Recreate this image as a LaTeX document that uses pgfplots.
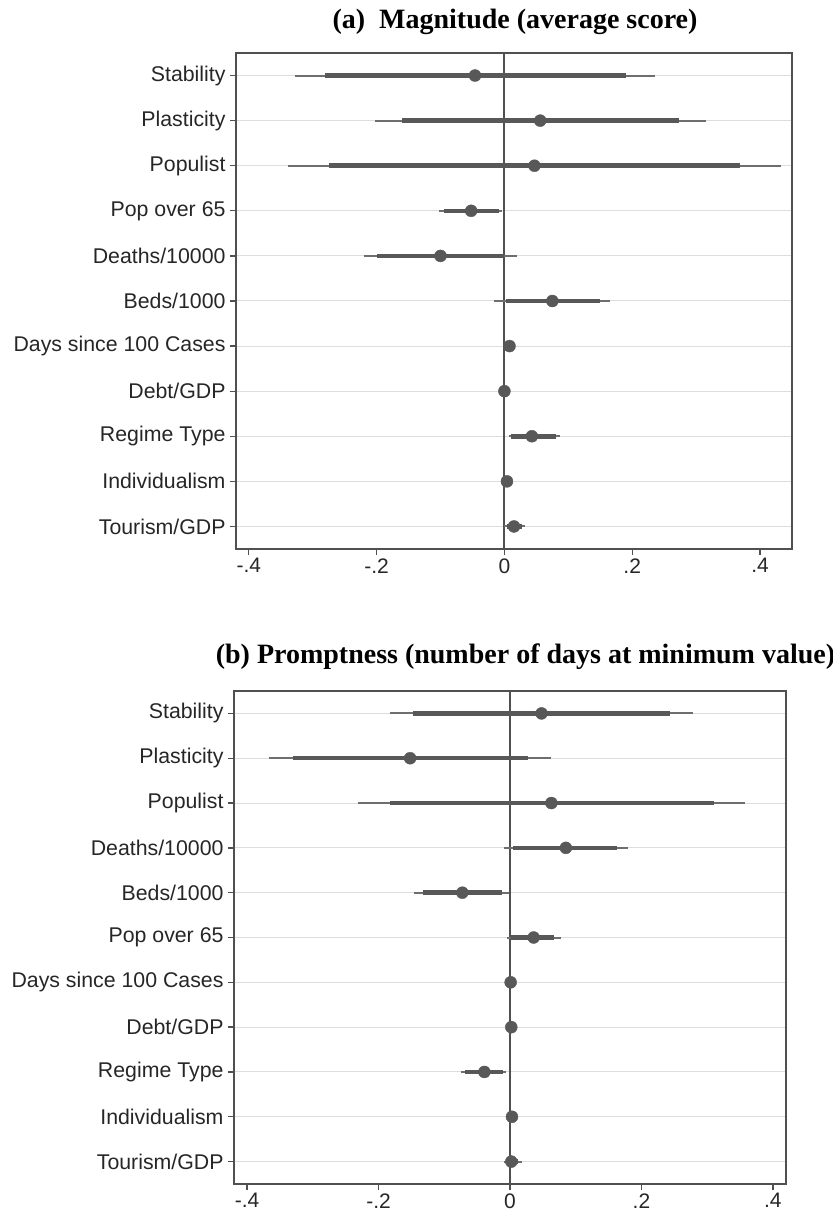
\documentclass[border=0pt]{standalone}
\usepackage{fontspec}
\setmainfont{Liberation Sans}
\newfontfamily\titlefont{Liberation Serif}
\usepackage{pgfplots}
\usepackage{pgfplotstable}
\pgfplotsset{compat=1.18}
\definecolor{ptc}{HTML}{585858}
\definecolor{thn}{HTML}{6E6E6E}
\definecolor{frm}{HTML}{505050}
\definecolor{grd}{HTML}{DDDDDD}

% row est lo95 hi95 lo90 hi90
\pgfplotstableread{
row est lo hi lot hit
1 -0.046 -0.328 0.236 -0.280 0.190
2 0.056 -0.202 0.316 -0.160 0.273
3 0.047 -0.339 0.433 -0.275 0.369
4 -0.052 -0.103 -0.003 -0.095 -0.009
5 -0.100 -0.219 0.020 -0.199 0.000
6 0.075 -0.016 0.165 0.003 0.149
7 0.008 0.004 0.012 0.005 0.011
8 0.000 -0.002 0.002 -0.001 0.001
9 0.043 0.007 0.087 0.010 0.080
10 0.004 0.001 0.007 0.002 0.006
11 0.015 0.000 0.032 0.004 0.027
}\tabA

\pgfplotstableread{
row est lo hi lot hit
1 0.048 -0.183 0.279 -0.147 0.243
2 -0.152 -0.366 0.062 -0.330 0.028
3 0.063 -0.231 0.358 -0.183 0.311
4 0.085 -0.009 0.179 0.005 0.163
5 -0.0725 -0.1455 -0.002 -0.133 -0.012
6 0.036 -0.004 0.077 0.001 0.067
7 0.001 -0.001 0.003 0.000 0.002
8 0.002 0.000 0.004 0.001 0.003
9 -0.039 -0.074 -0.0055 -0.068 -0.010
10 0.003 0.001 0.005 0.002 0.004
11 0.002 -0.009 0.018 -0.006 0.012
}\tabB

\pgfplotsset{
  coefplot/.style={
    scale only axis,
    y dir=reverse,
    ymin=0.5, ymax=11.5,
    ytick={1,...,11},
    xtick={-0.4,-0.2,0,0.2,0.4},
    xticklabels={-.4,-.2,0,.2,.4},
    xtick pos=bottom, ytick pos=left,
    tick align=outside,
    major tick length=6bp,
    tick style={draw=frm, line width=1.3bp},
    axis line style={draw=frm, line width=1.5bp},
    ymajorgrids,
    major grid style={draw=grd, line width=1bp},
    yticklabel style={font=\fontsize{21.3bp}{23bp}\selectfont, text=black!85, xshift=-1bp},
    xticklabel style={font=\fontsize{21bp}{23bp}\selectfont, text=black!85},
    clip=false,
  },
  thinci/.style={only marks, mark=none, forget plot,
    error bars/.cd, x dir=both, x explicit, error mark=none,
    error bar style={draw=thn, line width=2bp}},
  thickci/.style={only marks, mark=none, forget plot,
    error bars/.cd, x dir=both, x explicit, error mark=none,
    error bar style={draw=ptc, line width=4.5bp}},
  zeroline/.style={draw=frm, line width=2bp, forget plot, mark=none},
}

\begin{document}
\begin{tikzpicture}
\useasboundingbox (0,0) rectangle (833bp,1222bp);

% ---------- Panel (a) ----------
\begin{axis}[coefplot,
  at={(236bp,673bp)}, anchor=south west,
  width=556bp, height=496bp,
  xmin=-0.420, xmax=0.450,
  yticklabels={Stability,Plasticity,Populist,Pop over 65,Deaths/10000,Beds/1000,Days since 100 Cases,Debt/GDP,Regime Type,Individualism,Tourism/GDP},
]
\addplot[zeroline] coordinates {(0,0.5) (0,11.5)};
\addplot[thinci] table[x=est, y=row,
  x error plus expr=\thisrow{hi}-\thisrow{est},
  x error minus expr=\thisrow{est}-\thisrow{lo}] {\tabA};
\addplot[thickci] table[x=est, y=row,
  x error plus expr=\thisrow{hit}-\thisrow{est},
  x error minus expr=\thisrow{est}-\thisrow{lot}] {\tabA};
\addplot[only marks, mark=*, mark size=6bp, mark options={fill=ptc, draw=ptc}]
  table[x=est, y=row] {\tabA};
\end{axis}

% ---------- Panel (b) ----------
\begin{axis}[coefplot,
  at={(234bp,38bp)}, anchor=south west,
  width=552bp, height=493bp,
  xmin=-0.420, xmax=0.420,
  yticklabels={Stability,Plasticity,Populist,Deaths/10000,Beds/1000,Pop over 65,Days since 100 Cases,Debt/GDP,Regime Type,Individualism,Tourism/GDP},
]
\addplot[zeroline] coordinates {(0,0.5) (0,11.5)};
\addplot[thinci] table[x=est, y=row,
  x error plus expr=\thisrow{hi}-\thisrow{est},
  x error minus expr=\thisrow{est}-\thisrow{lo}] {\tabB};
\addplot[thickci] table[x=est, y=row,
  x error plus expr=\thisrow{hit}-\thisrow{est},
  x error minus expr=\thisrow{est}-\thisrow{lot}] {\tabB};
\addplot[only marks, mark=*, mark size=6bp, mark options={fill=ptc, draw=ptc}]
  table[x=est, y=row] {\tabB};
\end{axis}

% ---------- Titles ----------
\node[font=\titlefont\bfseries\fontsize{28bp}{30bp}\selectfont] at (515bp,1200bp) {(a)\enspace Magnitude (average score)};
\node[font=\titlefont\bfseries\fontsize{28bp}{30bp}\selectfont] at (525.5bp,565bp) {(b) Promptness (number of days at minimum value)};
\end{tikzpicture}
\end{document}
